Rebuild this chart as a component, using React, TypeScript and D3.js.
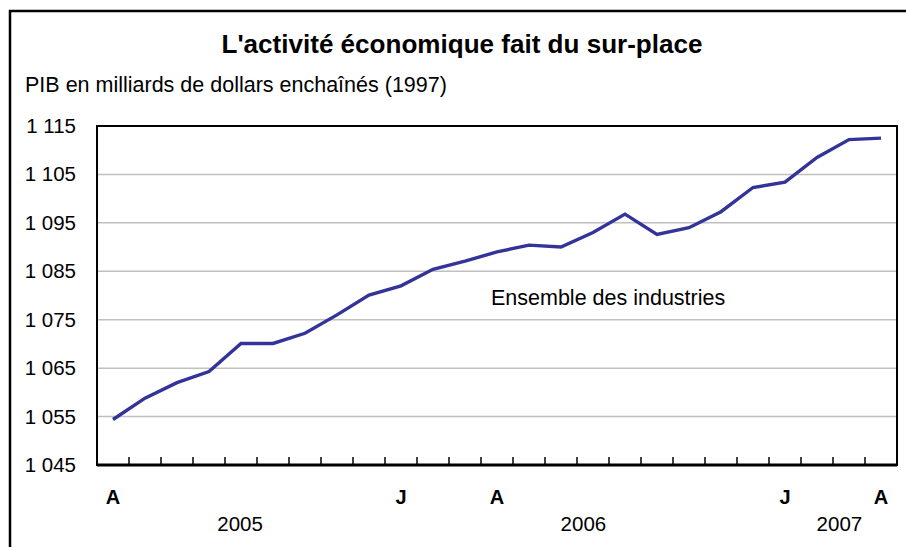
import React from 'react';
import * as d3 from 'd3';

const values: number[] = [
  1054.4, 1058.8, 1062.0, 1064.3, 1070.1, 1070.1, 1072.2, 1076.0, 1080.1,
  1082.0, 1085.4, 1087.1, 1089.0, 1090.4, 1090.0, 1093.0, 1096.8, 1092.6,
  1094.0, 1097.3, 1102.3, 1103.4, 1108.5, 1112.2, 1112.5,
];
const monthLabels: string[] = [
  'A', '', '', '', '', '', '', '', '', 'J', '', '', 'A', '', '', '', '', '', '', '', '', 'J', '', '', 'A',
];
const yearLabels: string[] = ['2005', '2006', '2007'];
const yearCenters: number[] = [3.97, 14.7, 22.7];
const yTicks: number[] = [1045, 1055, 1065, 1075, 1085, 1095, 1105, 1115];
const title = "L'activité économique fait du sur-place";
const subtitle = 'PIB en milliards de dollars enchaînés (1997)';
const seriesLabel = 'Ensemble des industries';

const fmt = (v: number) => {
  const s = String(v);
  return s.length > 3 ? s.slice(0, s.length - 3) + ' ' + s.slice(-3) : s;
};

export default function App() {
  const W = 906, H = 547;
  const left = 97, right = 897, top = 126, bottom = 465;
  const idx = values.map((_, i) => i);
  const xb = d3.scaleBand<number>().domain(idx).range([left, right]).padding(0);
  const bw = xb.bandwidth();
  const xc = (i: number) => (xb(i) as number) + bw / 2;
  const xLin = d3.scaleLinear().domain([0, values.length - 1]).range([xc(0), xc(values.length - 1)]);
  const y = d3.scaleLinear().domain([1045, 1115]).range([bottom, top]);
  const line = d3.line<number>().x((_, i) => xc(i)).y((d) => y(d));
  const font = "'Liberation Sans', Arial, sans-serif";

  return (
    <svg width={W} height={H} style={{ position: 'absolute', left: 0, top: 0, background: '#fff' }}>
      <rect x={10} y={11} width={W + 20} height={H + 20} fill="#fff" stroke="#000" strokeWidth={2.5} />
      <text x={462} y={53} textAnchor="middle" fontFamily={font} fontWeight="bold" fontSize={25} textLength={481} lengthAdjust="spacingAndGlyphs">{title}</text>
      <text x={25} y={92} fontFamily={font} fontSize={21.5}>{subtitle}</text>
      {yTicks.slice(1, -1).map((t) => (
        <line key={'g' + t} x1={left} x2={right} y1={y(t)} y2={y(t)} stroke="#c0c0c0" strokeWidth={1.5} />
      ))}
      {yTicks.map((t) => (
        <text key={'t' + t} x={76} y={y(t) + 7} textAnchor="end" fontFamily={font} fontSize={20.5}>{fmt(t)}</text>
      ))}
      <rect x={left} y={top} width={right - left} height={bottom - top} fill="none" stroke="#000" strokeWidth={2} />
      <line x1={left} x2={right} y1={bottom} y2={bottom} stroke="#000" strokeWidth={3} />
      {idx.slice(1).map((i) => (
        <line key={'k' + i} x1={xb(i) as number} x2={xb(i) as number} y1={bottom} y2={bottom - 8} stroke="#000" strokeWidth={1.5} />
      ))}
      <path d={line(values) || ''} fill="none" stroke="#333399" strokeWidth={3.4} strokeLinejoin="miter" />
      <text x={491} y={305} fontFamily={font} fontSize={21.5}>{seriesLabel}</text>
      {monthLabels.map((m, i) => m ? (
        <text key={'m' + i} x={xc(i)} y={504} textAnchor="middle" fontFamily={font} fontWeight="bold" fontSize={20}>{m}</text>
      ) : null)}
      {yearLabels.map((yl, i) => (
        <text key={'y' + yl} x={xLin(yearCenters[i])} y={531} textAnchor="middle" fontFamily={font} fontSize={20.5}>{yl}</text>
      ))}
    </svg>
  );
}
